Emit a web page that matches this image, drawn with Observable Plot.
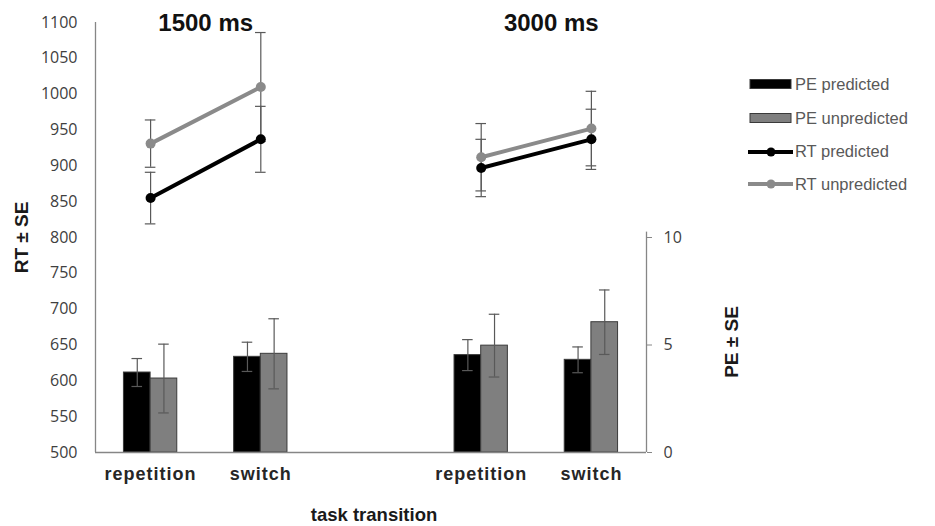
<!DOCTYPE html>
<html><head><meta charset="utf-8">
<script src="https://cdn.jsdelivr.net/npm/d3@7"></script>
<script src="https://cdn.jsdelivr.net/npm/@observablehq/plot@0.6"></script>
<style>
body{margin:0;background:#fff}
#wrap{position:relative;width:935px;height:526px;overflow:hidden}
.legend{position:absolute;left:0;top:0;font-family:"Liberation Sans",Arial,sans-serif;font-size:16.5px;color:#595959}
.item{position:absolute;height:20px;display:flex;align-items:center;white-space:nowrap}
</style></head><body><div id="wrap"></div>
<script>
// ---- data ----
const delays = ["1500 ms", "3000 ms"];
const transitions = ["repetition", "switch"];
const groupDelay = ["1500 ms", "1500 ms", "3000 ms", "3000 ms"];
const groupTransition = ["repetition", "switch", "repetition", "switch"];

const rtPredicted = [855, 937, 897, 937];
const rtPredictedSE = [36, 46, 40, 42];
const rtUnpredicted = [931, 1010, 912, 952];
const rtUnpredictedSE = [33, 76, 47, 52];

const pePredicted = [3.72, 4.45, 4.53, 4.31];
const pePredictedSE = [0.65, 0.68, 0.72, 0.60];
const peUnpredicted = [3.44, 4.59, 4.97, 6.06];
const peUnpredictedSE = [1.60, 1.63, 1.46, 1.50];

const rtTicks = d3.range(500, 1101, 50);
const peTicks = [0, 5, 10];
const seriesNames = ["PE predicted", "PE unpredicted", "RT predicted", "RT unpredicted"];
const seriesColors = ["#000000", "#7f7f7f", "#000000", "#8a8a8a"];

// ---- derived ----
const rtMin = 500, rtAtPeMax = 800, peMax = 10;
const peToRt = p => rtMin + p * (rtAtPeMax - rtMin) / peMax;
const groups = groupDelay.map((dl, i) => ({
  delay: dl, transition: groupTransition[i],
  pos: delays.indexOf(dl) * 3 + transitions.indexOf(groupTransition[i]) + 0.5
}));
const bw = 0.242, cap = 0.048;

const bars = groups.flatMap((g, i) => [
  {series: seriesNames[0], x1: g.pos - bw, x2: g.pos, xc: g.pos - bw / 2, v: pePredicted[i], se: pePredictedSE[i]},
  {series: seriesNames[1], x1: g.pos, x2: g.pos + bw, xc: g.pos + bw / 2, v: peUnpredicted[i], se: peUnpredictedSE[i]}
]);
const rts = groups.flatMap((g, i) => [
  {series: seriesNames[2], delay: g.delay, pos: g.pos, v: rtPredicted[i], se: rtPredictedSE[i]},
  {series: seriesNames[3], delay: g.delay, pos: g.pos, v: rtUnpredicted[i], se: rtUnpredictedSE[i]}
]);
const barCaps = bars.flatMap(d => [{xc: d.xc, y: peToRt(d.v - d.se)}, {xc: d.xc, y: peToRt(d.v + d.se)}]);
const rtCaps = rts.flatMap(d => [{xc: d.pos, y: d.v - d.se}, {xc: d.pos, y: d.v + d.se}]);
const colorOf = s => seriesColors[seriesNames.indexOf(s)];
const errColor = "#595959", axisColor = "#868686", tickText = "#404040";

const chart = Plot.plot({
  width: 935, height: 526,
  marginLeft: 95, marginRight: 289, marginTop: 22, marginBottom: 74,
  style: {fontFamily: "'Liberation Sans', Arial, sans-serif", background: "white"},
  x: {type: "linear", domain: [0, 5], axis: null},
  y: {domain: [500, 1100], axis: null},
  marks: [
    Plot.rect(bars, {x1: "x1", x2: "x2", y1: () => rtMin, y2: d => peToRt(d.v), fill: d => colorOf(d.series), stroke: "#3a3a3a", strokeWidth: 1}),
    Plot.ruleX(bars, {x: "xc", y1: d => peToRt(d.v - d.se), y2: d => peToRt(d.v + d.se), stroke: errColor, strokeWidth: 1.2}),
    Plot.ruleY(barCaps, {y: "y", x1: d => d.xc - cap, x2: d => d.xc + cap, stroke: errColor, strokeWidth: 1.2}),
    Plot.ruleX(rts, {x: "pos", y1: d => d.v - d.se, y2: d => d.v + d.se, stroke: errColor, strokeWidth: 1.2}),
    Plot.ruleY(rtCaps, {y: "y", x1: d => d.xc - cap, x2: d => d.xc + cap, stroke: errColor, strokeWidth: 1.2}),
    Plot.line(rts, {x: "pos", y: "v", z: d => d.series + d.delay, stroke: d => colorOf(d.series), strokeWidth: 4}),
    Plot.dot(rts, {x: "pos", y: "v", r: 5, fill: d => colorOf(d.series), stroke: "none"}),
    // axis lines
    Plot.ruleX([0], {stroke: axisColor, strokeWidth: 1.3}),
    Plot.ruleY([rtMin], {stroke: axisColor, strokeWidth: 1.3}),
    Plot.ruleX([5], {y1: rtMin, y2: peToRt(10.25), stroke: axisColor, strokeWidth: 1.3}),
    // axes
    Plot.axisY({anchor: "left", ticks: rtTicks, tickFormat: d => String(d), tickSize: 0, tickPadding: 18, label: null, fontSize: 16, fontFamily: "'Open Sans', sans-serif", fill: tickText}),
    Plot.axisY({anchor: "right", ticks: peTicks.map(peToRt), tickFormat: v => String(Math.round((v - rtMin) * peMax / (rtAtPeMax - rtMin))), tickSize: 5, tickPadding: 12, label: null, fontSize: 16, fontFamily: "'Open Sans', sans-serif", fill: tickText, stroke: axisColor}),
    Plot.axisX({ticks: groups.map(g => g.pos), tickFormat: v => groups.find(g => g.pos === v).transition, tickSize: 0, tickPadding: 15, label: null, fontSize: 18, fontWeight: "bold", fill: "#262626"}),
    // titles and labels
    Plot.text([delays[0]], {x: () => 1, text: d => d, frameAnchor: "top", lineAnchor: "middle", dy: 1, fontSize: 24, fontWeight: "bold", fill: "#111"}),
    Plot.text([delays[1]], {x: () => 4, text: d => d, frameAnchor: "top", lineAnchor: "middle", dy: 1, dx: 15, fontSize: 24, fontWeight: "bold", fill: "#111"}),
    Plot.text(["RT ± SE"], {text: d => d, frameAnchor: "left", textAnchor: "middle", lineAnchor: "middle", rotate: -90, dx: -74, fontSize: 19, fontWeight: "bold", fill: "#1a1a1a"}),
    Plot.text([peToRt(5)], {y: d => d, text: () => "PE ± SE", frameAnchor: "right", textAnchor: "middle", lineAnchor: "middle", rotate: -90, dx: 85, dy: -3, fontSize: 19, fontWeight: "bold", fill: "#1a1a1a"}),
    Plot.text(["task transition"], {text: d => d, frameAnchor: "bottom", lineAnchor: "middle", dy: 63, dx: 3, fontSize: 18.5, fontWeight: "bold", fill: "#1a1a1a"})
  ]
});
const wrap = document.getElementById("wrap");
wrap.appendChild(chart);
const xl = chart.querySelector('[aria-label="x-axis tick label"]');
if (xl) xl.style.letterSpacing = "1px";

// ---- legend ----
const legend = document.createElement("div");
legend.className = "legend";
const tops = [84, 118, 151.5, 184];
seriesNames.forEach((name, i) => {
  const it = document.createElement("div");
  it.className = "item";
  it.style.left = "748px";
  it.style.top = (tops[i] - 10) + "px";
  let sw;
  if (i < 2) {
    sw = `<svg width="47" height="20"><rect x="2" y="5.5" width="41" height="9" fill="${seriesColors[i]}" stroke="#3a3a3a" stroke-width="1"/></svg>`;
  } else {
    sw = `<svg width="47" height="20"><line x1="0" x2="45" y1="10" y2="10" stroke="${seriesColors[i]}" stroke-width="4"/><circle cx="23" cy="10" r="4.5" fill="${seriesColors[i]}"/></svg>`;
  }
  it.innerHTML = sw + `<span>${name}</span>`;
  legend.appendChild(it);
});
wrap.appendChild(legend);
</script>
</body></html>
